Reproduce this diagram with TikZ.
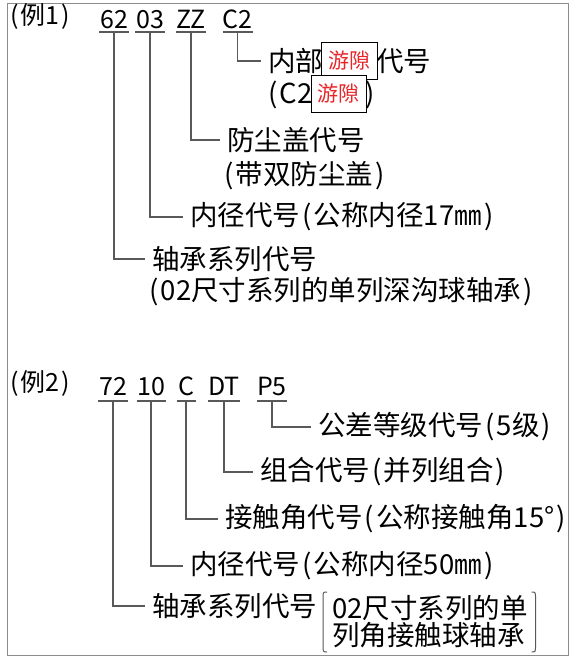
\documentclass[tikz,border=0pt]{standalone}
\usepackage{fontspec}
\setmainfont{Noto Sans CJK SC}
\newcommand{\opar}{\makebox[0.5em][c]{(}}
\newcommand{\cpar}{\makebox[0.5em][c]{)}}
\definecolor{linegray}{HTML}{595959}
\definecolor{framegray}{HTML}{8C8C8C}
\definecolor{gapred}{HTML}{E8262A}
\begin{document}
\begin{tikzpicture}[x=1pt,y=-1pt,
  every node/.style={inner sep=0pt, outer sep=0pt, text=black},
  head/.style={anchor=base west, font=\fontsize{25}{25}\selectfont},
  code/.style={anchor=base, text depth=0pt, inner xsep=0pt, minimum width=30pt, font=\fontsize{25}{25}\selectfont},
  lab/.style={anchor=west, outer xsep=7pt, font=\fontsize{27.5}{27.5}\selectfont},
  sub/.style={anchor=west, font=\fontsize{27.5}{27.5}\selectfont},
  conn/.style={draw=linegray, line width=1.1pt},
  uline/.style={draw=linegray, line width=1.1pt},
  paren/.style={draw=linegray, line width=1pt},
  gapbox/.style={draw=black, line width=0.8pt, fill=white, text=gapred, minimum width=56pt, minimum height=37pt, font=\fontsize{21}{21}\selectfont}
]
\useasboundingbox (0,0) rectangle (575,663);
\draw[draw=framegray, line width=1.3pt] (7.5,3.5) rectangle (568.5,655.5);

% ---------- Example 1 ----------
\node[head] (h1) at (8,25) {\opar 例1\cpar};
\node[code, inner ysep=3pt] (c62) at (114,29) {62};
\node[code, inner ysep=3pt] (c03) at (150,29) {03};
\node[code, inner ysep=3pt] (cZZ) at (191,29) {ZZ};
\node[code, inner ysep=3pt] (cC2) at (237.5,29) {C2};
\foreach \n in {c62,c03,cZZ,cC2} \draw[uline] (\n.south west) -- (\n.south east);

\node[lab] (lC2) at (261,61) {内部};
\node[sub] (lC2b) at (376,61) {代号};
\node[sub] (lC2c) at (266,95) {\opar C2};
\node[sub] (lC2d) at (363,95) {\cpar};
\node[gapbox] (g1) at (349,60.5) {游隙};
\node[gapbox, minimum width=55pt] (g2) at (338.5,93.5) {游隙};

\node[lab] (lZZ) at (220,140) {防尘盖代号};
\node[sub] (lZZb) at (222,176) {\opar 带双防尘盖\cpar};
\node[lab] (l03) at (183,217) {内径代号\opar 公称内径17㎜\cpar};
\node[lab] (l62) at (145,259) {轴承系列代号};
\node[sub] (l62b) at (147,292) {\opar 02尺寸系列的单列深沟球轴承\cpar};

\draw[conn] (cC2.south) |- (lC2.west);
\draw[conn] (cZZ.south) |- (lZZ.west);
\draw[conn] (c03.south) |- (l03.west);
\draw[conn] (c62.south) |- (l62.west);

% ---------- Example 2 ----------
\node[head] (h2) at (8,391) {\opar 例2\cpar};
\node[code, inner ysep=6pt] (c72) at (113,395) {72};
\node[code, inner ysep=6pt, minimum width=29pt] (c10) at (151,395) {10};
\node[code, inner ysep=6pt, minimum width=19pt] (cC) at (186,395) {C};
\node[code, inner ysep=6pt, minimum width=29pt] (cDT) at (224,395) {DT};
\node[code, inner ysep=6pt] (cP5) at (272,395) {P5};
\foreach \n in {c72,c10,cC,cDT,cP5} \draw[uline] (\n.south west) -- (\n.south east);

\node[lab] (lP5) at (311,427) {公差等级代号\opar 5级\cpar};
\node[lab] (lDT) at (253,472) {组合代号\opar 并列组合\cpar};
\node[lab] (lC) at (218,519) {接触角代号\opar 公称接触角15°\cpar};
\node[lab] (l10) at (183,566) {内径代号\opar 公称内径50㎜\cpar};
\node[lab] (l72) at (145,606) {轴承系列代号};
\node[anchor=west, align=left, minimum height=60pt, font=\fontsize{27.5}{27}\selectfont] (brk) at (332,622) {02尺寸系列的单\\列角接触球轴承};

\draw[conn] (cP5.south) |- (lP5.west);
\draw[conn] (cDT.south) |- (lDT.west);
\draw[conn] (cC.south) |- (lC.west);
\draw[conn] (c10.south) |- (l10.west);
\draw[conn] (c72.south) |- (l72.west);

\draw[paren] ([xshift=-5pt]brk.north west) .. controls ([xshift=-9pt]brk.north west) .. ([xshift=-9pt,yshift=-7pt]brk.north west)
  -- ([xshift=-9pt,yshift=7pt]brk.south west) .. controls ([xshift=-9pt]brk.south west) .. ([xshift=-5pt]brk.south west);
\draw[paren] ([xshift=4pt]brk.north east) .. controls ([xshift=8pt]brk.north east) .. ([xshift=8pt,yshift=-7pt]brk.north east)
  -- ([xshift=8pt,yshift=7pt]brk.south east) .. controls ([xshift=8pt]brk.south east) .. ([xshift=4pt]brk.south east);
\end{tikzpicture}
\end{document}
